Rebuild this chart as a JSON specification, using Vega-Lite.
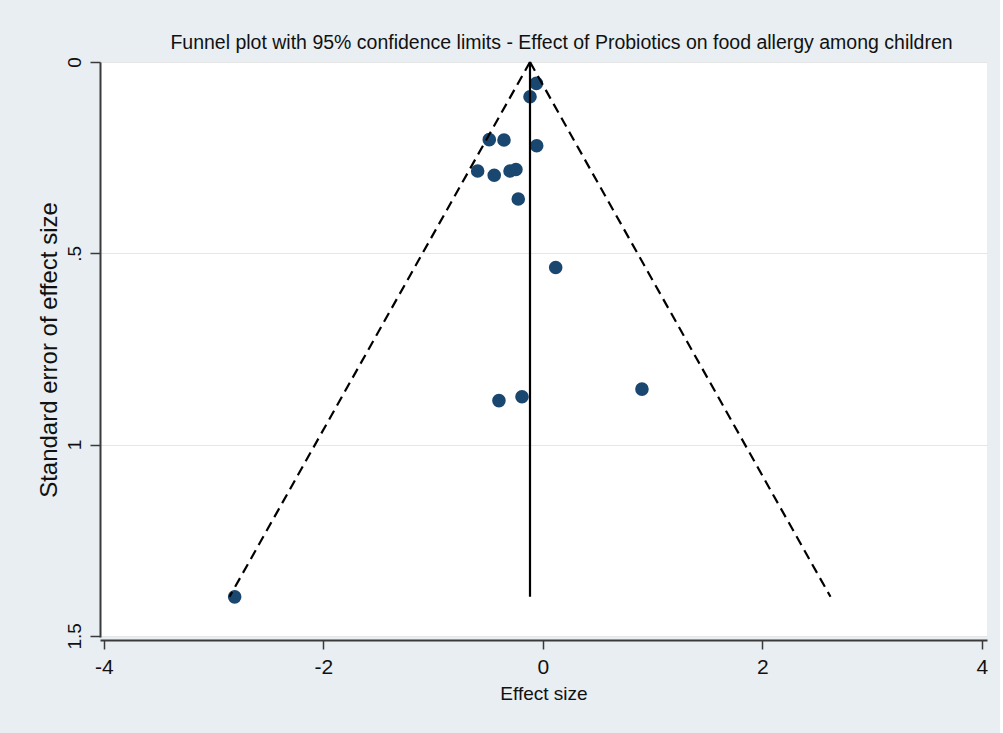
{
  "$schema": "https://vega.github.io/schema/vega-lite/v6.json",
  "autosize": "none",
  "width": 887,
  "height": 575,
  "padding": {"left": 100, "top": 62, "right": 13, "bottom": 96},
  "background": "#e8eef1",
  "config": {
    "font": "Liberation Sans",
    "view": {"stroke": null, "fill": "white"}
  },
  "title": {
    "text": "Funnel plot with 95% confidence limits - Effect of Probiotics on food allergy among children",
    "fontSize": 19.5,
    "fontWeight": "normal",
    "color": "#111111",
    "anchor": "middle",
    "dx": 18,
    "offset": 3
  },
  "datasets": {
    "studies": [
      {"effect": -0.06, "se": 0.056},
      {"effect": -0.118, "se": 0.091},
      {"effect": -0.489, "se": 0.203},
      {"effect": -0.355, "se": 0.204},
      {"effect": -0.057, "se": 0.219},
      {"effect": -0.595, "se": 0.285},
      {"effect": -0.444, "se": 0.296},
      {"effect": -0.3, "se": 0.285},
      {"effect": -0.246, "se": 0.281},
      {"effect": -0.225, "se": 0.358},
      {"effect": 0.116, "se": 0.537},
      {"effect": -0.401, "se": 0.885},
      {"effect": -0.191, "se": 0.875},
      {"effect": 0.902, "se": 0.855},
      {"effect": -2.809, "se": 1.398}
    ],
    "limits": [
      {"series": "lower", "effect": -0.118, "se": 0},
      {"series": "lower", "effect": -2.856, "se": 1.398},
      {"series": "upper", "effect": -0.118, "se": 0},
      {"series": "upper", "effect": 2.62, "se": 1.398}
    ],
    "pooled": [
      {"effect": -0.118, "se": 0},
      {"effect": -0.118, "se": 1.398}
    ]
  },
  "encoding": {
    "x": {
      "field": "effect",
      "type": "quantitative",
      "scale": {"domain": [-4.036, 4.046], "nice": false, "zero": false},
      "axis": {
        "title": "Effect size",
        "values": [-4, -2, 0, 2, 4],
        "labelExpr": "datum.value < 0 ? '-' + abs(datum.value) : datum.label",
        "grid": false,
        "offset": 3,
        "domainColor": "#3a3a3a",
        "domainWidth": 2,
        "tickColor": "#3a3a3a",
        "tickWidth": 1.5,
        "tickSize": 9,
        "labelFontSize": 21,
        "labelColor": "#111111",
        "labelPadding": 7,
        "labelFlush": false,
        "titleFontSize": 19,
        "titleFontWeight": "normal",
        "titleColor": "#111111",
        "titlePadding": 7
      }
    },
    "y": {
      "field": "se",
      "type": "quantitative",
      "scale": {"domain": [0, 1.503], "nice": false, "zero": false, "reverse": true},
      "axis": {
        "title": "Standard error of effect size",
        "values": [0, 0.5, 1, 1.5],
        "labelExpr": "datum.value == 0.5 ? '.5' : toString(datum.value)",
        "grid": true,
        "gridColor": "#e6e6e6",
        "gridWidth": 1.2,
        "domainColor": "#3a3a3a",
        "domainWidth": 2,
        "tickColor": "#3a3a3a",
        "tickWidth": 1.5,
        "tickSize": 10,
        "labelAngle": -90,
        "labelAlign": "center",
        "labelBaseline": "bottom",
        "labelFontSize": 19,
        "labelColor": "#111111",
        "labelPadding": 6,
        "labelFlush": false,
        "titleFontSize": 24,
        "titleFontWeight": "normal",
        "titleColor": "#111111",
        "titlePadding": 4
      }
    }
  },
  "layer": [
    {
      "data": {"name": "studies"},
      "mark": {"type": "point", "shape": "circle", "filled": true, "size": 185, "color": "#1a476f", "opacity": 1}
    },
    {
      "data": {"name": "limits"},
      "mark": {"type": "line", "color": "black", "strokeWidth": 2.2, "strokeDash": [10, 6]},
      "encoding": {"detail": {"field": "series"}, "order": {"field": "se", "type": "quantitative"}}
    },
    {
      "data": {"name": "pooled"},
      "mark": {"type": "line", "color": "black", "strokeWidth": 2.2},
      "encoding": {"order": {"field": "se", "type": "quantitative"}}
    }
  ]
}
